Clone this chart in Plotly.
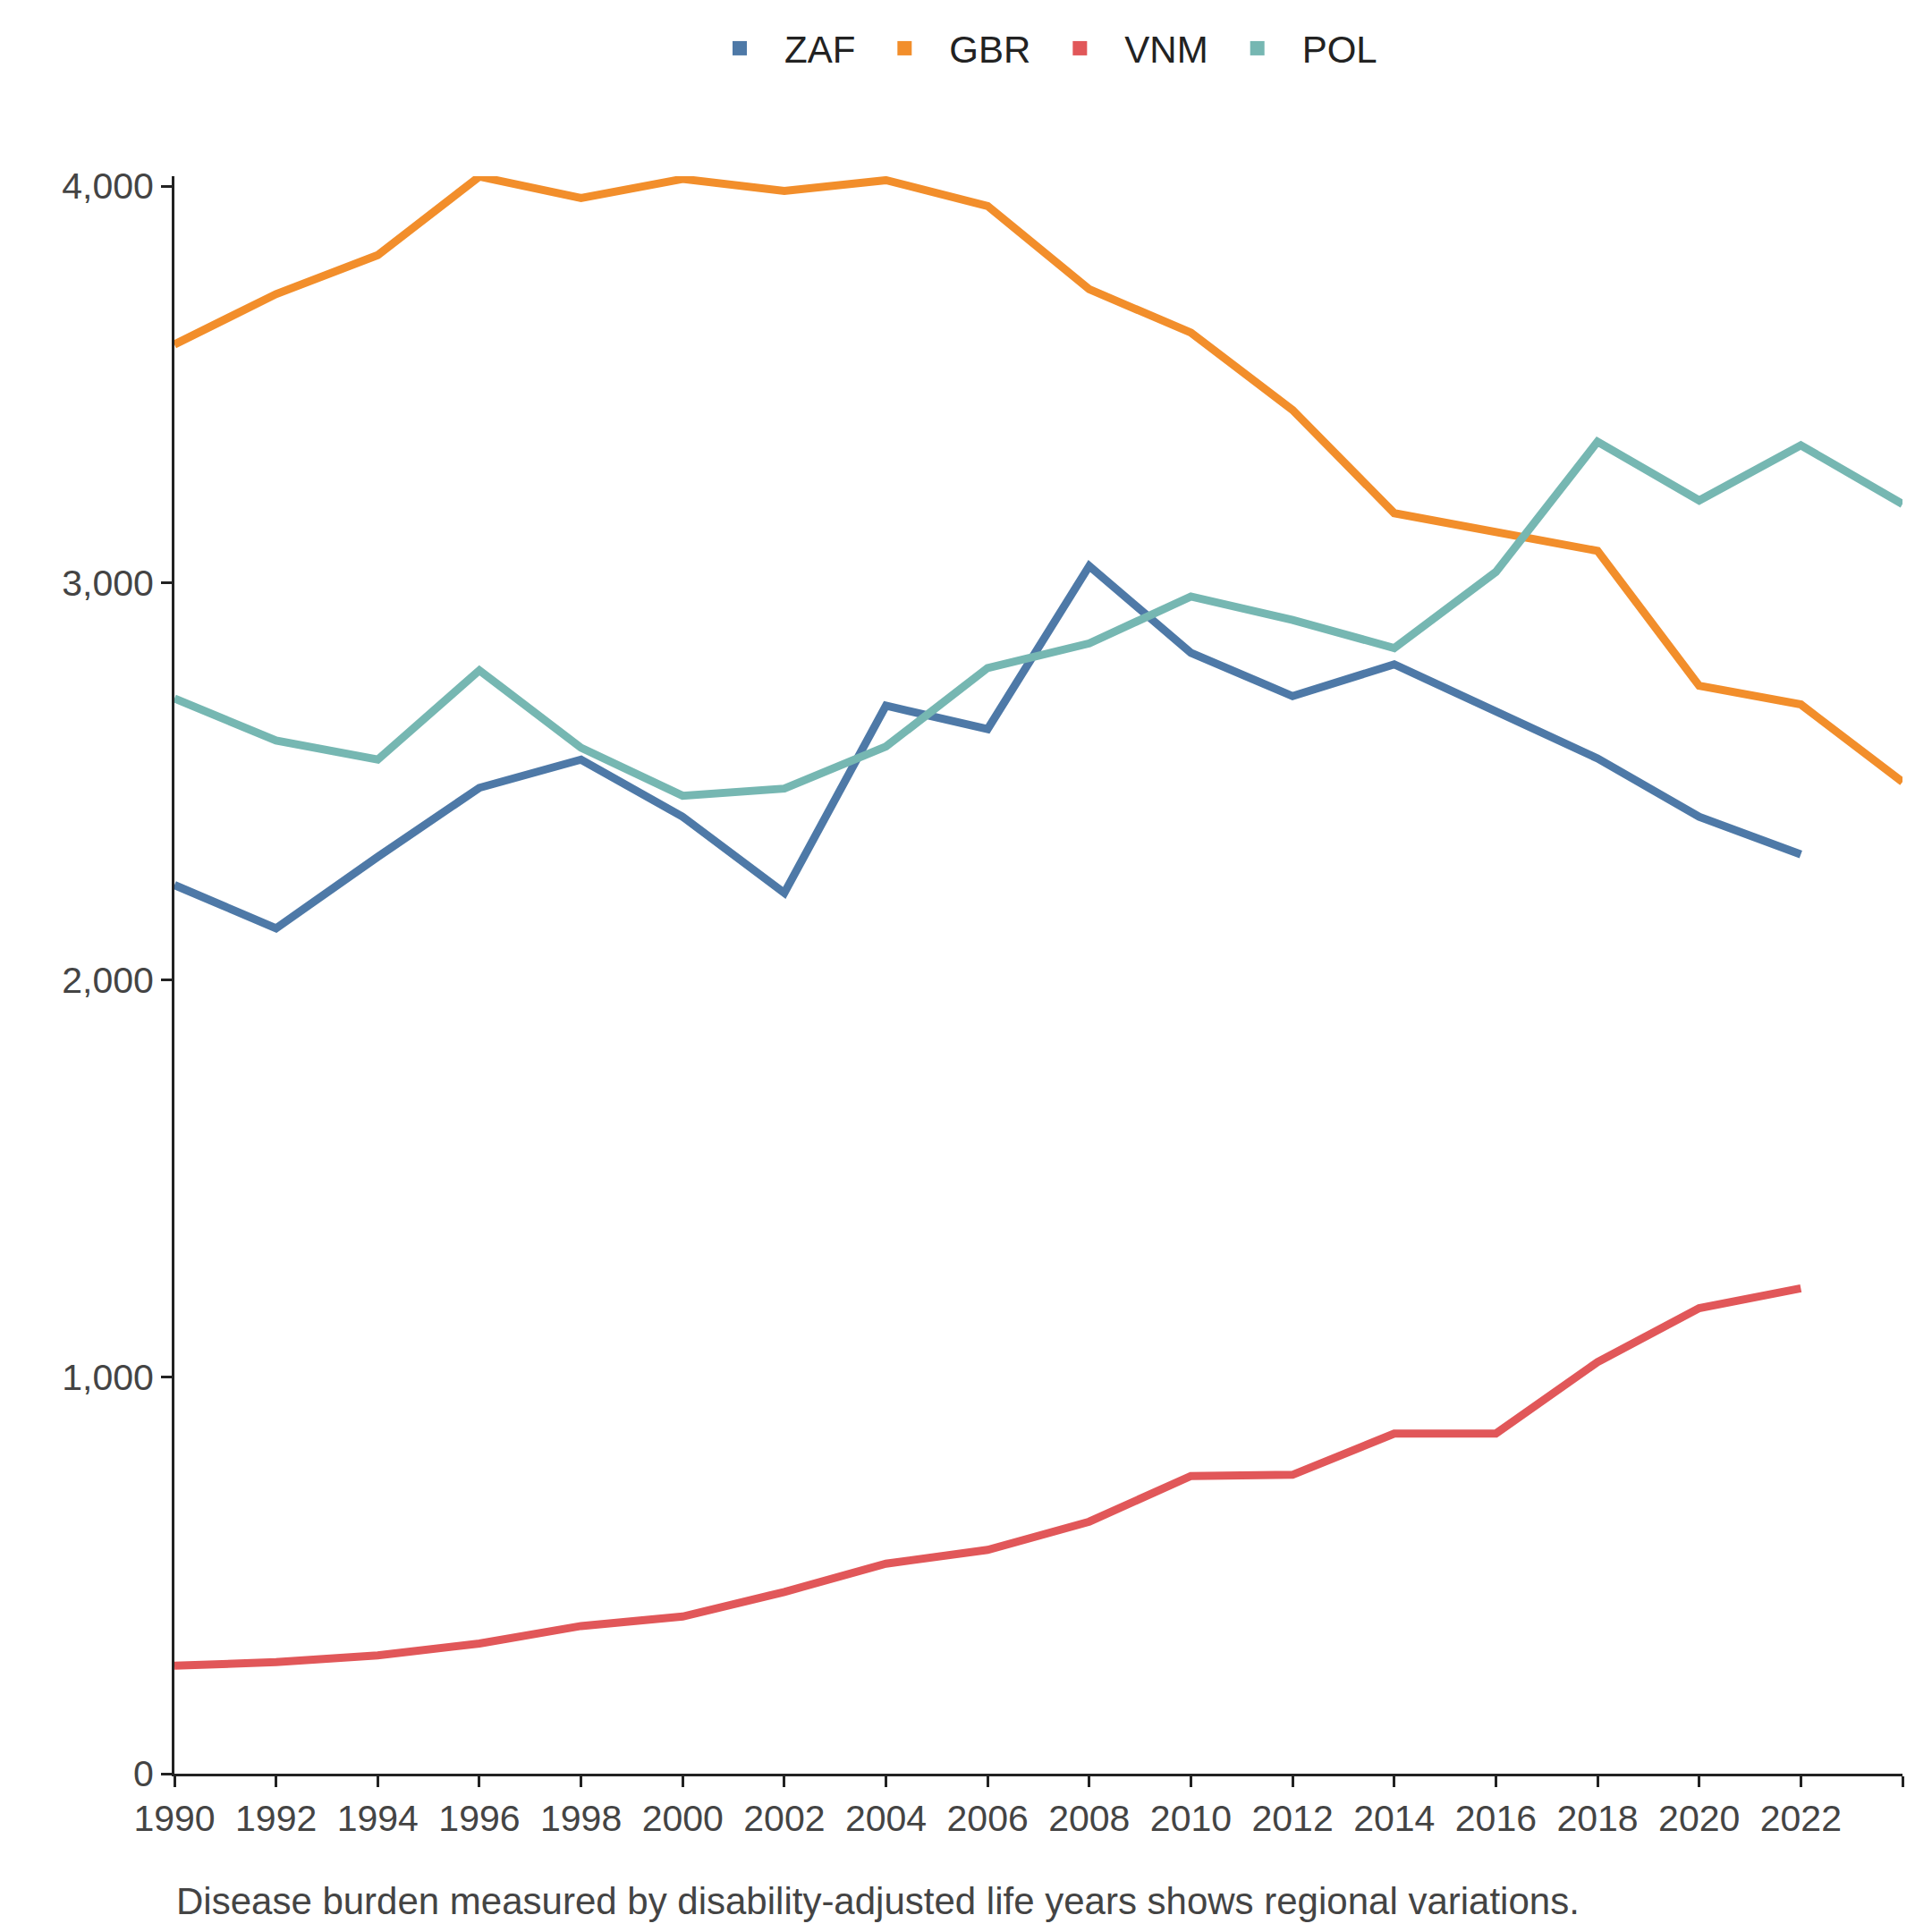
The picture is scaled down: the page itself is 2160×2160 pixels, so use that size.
import plotly.graph_objects as go

years = list(range(1990, 2025, 2))
zaf = [2239, 2130, 2310, 2484, 2555, 2411, 2219, 2691, 2632, 3043, 2824, 2715, 2795, 2677, 2558, 2411, 2316]
gbr = [3601, 3728, 3826, 4024, 3970, 4018, 3988, 4015, 3950, 3740, 3631, 3436, 3176, 3128, 3081, 2741, 2694, 2499]
vnm = [272, 281, 298, 328, 372, 396, 458, 529, 564, 635, 750, 753, 857, 857, 1037, 1173, 1223]
pol = [2709, 2603, 2555, 2780, 2585, 2464, 2482, 2588, 2786, 2848, 2966, 2907, 2836, 3028, 3356, 3208, 3347, 3199]

series = [("ZAF", zaf, "#4e79a7"), ("GBR", gbr, "#f28e2b"),
          ("VNM", vnm, "#e15759"), ("POL", pol, "#76b7b2")]

fig = go.Figure()
for name, vals, col in series:
    fig.add_trace(go.Scatter(x=years[:len(vals)], y=vals, name=name, mode="lines",
                             line=dict(color=col, width=9), showlegend=False))
    # legend entry with a square swatch
    fig.add_trace(go.Scatter(x=[None], y=[None], name=name, mode="markers",
                             marker=dict(symbol="square", size=30, color=col)))

fig.update_layout(
    width=2160, height=2160, plot_bgcolor="white", paper_bgcolor="white",
    margin=dict(l=187, r=41, t=110, b=185),
    font=dict(family="Liberation Sans, Arial", size=41, color="#444"),
    legend=dict(orientation="h", x=0.5, xanchor="center", y=1.08, yanchor="middle",
                font=dict(size=42, color="#222"), itemwidth=90),
    xaxis=dict(range=[1990, 2024], tickvals=years, showgrid=False, showline=True,
               linecolor="#222", linewidth=3, ticks="outside", ticklen=12,
               tickcolor="#222", tickwidth=3, tickangle=0),
    yaxis=dict(range=[0, 4025], tickvals=[0, 1000, 2000, 3000, 4000], tickformat=",",
               showgrid=False, showline=True, linecolor="#222", linewidth=3,
               ticks="outside", ticklen=12, tickcolor="#222", tickwidth=3, zeroline=False),
    annotations=[dict(text="Disease burden measured by disability-adjusted life years shows regional variations.",
                      x=0, xref="paper", xanchor="left", y=-0.08, yref="paper", yanchor="middle",
                      showarrow=False, font=dict(size=42, color="#444"))],
)
fig.write_html("out.html")
